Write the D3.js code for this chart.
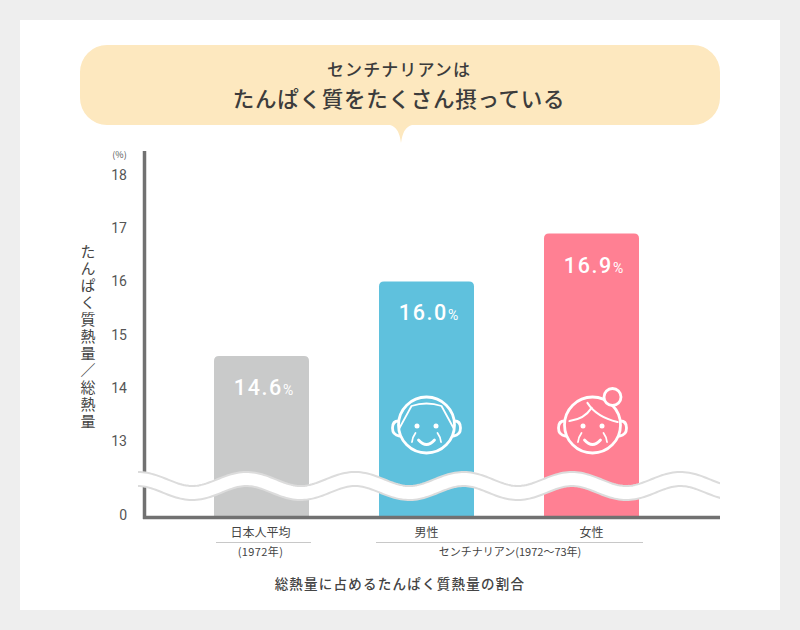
<!DOCTYPE html>
<html lang="ja">
<head>
<meta charset="utf-8">
<script src="https://cdn.jsdelivr.net/npm/d3@7"></script>
<style>
  html, body { margin: 0; padding: 0; background: #eeeeee; }
  svg { display: block; font-family: "Noto Sans CJK JP", "Noto Sans", sans-serif; }
</style>
</head>
<body>
<div id="chart"></div>
<script>
// chart data
const categories = ['日本人平均', '男性', '女性'];
const values = [14.6, 16.0, 16.9];
const barColors = ['#c9caca', '#5fc1dd', '#ff8093'];
const yTicks = [0, 13, 14, 15, 16, 17, 18];
const titleLines = ['センチナリアンは', 'たんぱく質をたくさん摂っている'];
const yTitle = 'たんぱく質熱量／総熱量';
const groupLabels = ['(1972年)', 'センチナリアン(1972〜73年)'];
const footer = '総熱量に占めるたんぱく質熱量の割合';

const width = 800;
const height = 630;
const textColor = '#444';
const axisColor = '#717171';

const svg = d3.select('#chart').append('svg')
  .attr('width', width)
  .attr('height', height);

// White card
svg.append('rect')
  .attr('x', 20).attr('y', 20)
  .attr('width', 760).attr('height', 590)
  .attr('fill', '#fff');

// Speech bubble
svg.append('path')
  .attr('d', 'M107,45 H693 A27,27 0 0 1 720,72 V98 A27,27 0 0 1 693,125 H412 Q403,127 401,143 Q399,127 390,125 H107 A27,27 0 0 1 80,98 V72 A27,27 0 0 1 107,45 Z')
  .attr('fill', '#fde8bf');

svg.append('text')
  .attr('x', 399).attr('y', 76)
  .attr('text-anchor', 'middle')
  .attr('font-size', 17).attr('font-weight', 500)
  .attr('letter-spacing', 1.1)
  .attr('fill', '#3c3c3c')
  .text(titleLines[0]);

svg.append('text')
  .attr('x', 399).attr('y', 107)
  .attr('text-anchor', 'middle')
  .attr('font-size', 21.5).attr('font-weight', 500)
  .attr('letter-spacing', 0.75)
  .attr('fill', '#3c3c3c')
  .text(titleLines[1]);

// Scales, the axis is broken between 0 and 13
const x = d3.scaleBand()
  .domain(categories)
  .range([179, 674])
  .paddingInner(70 / 165)
  .paddingOuter(35 / 165);

const y = d3.scaleLinear()
  .domain([0, 13, 18])
  .range([515, 441, 175]);

// Bars with rounded top corners
const barPath = (d, i) => {
  const x0 = x(categories[i]);
  const x1 = x0 + x.bandwidth();
  const top = y(d);
  const r = 5;
  return `M${x0},${y(0) + 2} V${top + r} Q${x0},${top} ${x0 + r},${top} H${x1 - r} Q${x1},${top} ${x1},${top + r} V${y(0) + 2} Z`;
};

svg.append('g')
  .selectAll('path')
  .data(values)
  .enter()
  .append('path')
  .attr('d', barPath)
  .attr('fill', (d, i) => barColors[i]);

// Value labels
const valueLabel = svg.append('g')
  .selectAll('text')
  .data(values)
  .enter()
  .append('text')
  .attr('x', (d, i) => x(categories[i]) + x.bandwidth() / 2 + 2)
  .attr('y', d => y(d) + 39)
  .attr('text-anchor', 'middle')
  .attr('fill', '#fff')
  .attr('font-family', 'Roboto, "Noto Sans", sans-serif')
  .attr('font-weight', 500);

valueLabel.append('tspan')
  .attr('font-size', 21.5)
  .attr('letter-spacing', 1.6)
  .text(d => d.toFixed(1));

valueLabel.append('tspan')
  .attr('font-size', 14)
  .attr('font-weight', 400)
  .text('%');

// Face icons
const drawFace = (g) => {
  g.attr('fill', 'none')
    .attr('stroke', '#fff')
    .attr('stroke-width', 2.8)
    .attr('stroke-linecap', 'round');
  g.append('circle').attr('r', 28);
  // ears
  g.append('path').attr('d', 'M-28,-4 Q-34,-4 -34,3 Q-34,10 -27,11');
  g.append('path').attr('d', 'M28,-4 Q34,-4 34,3 Q34,10 27,11');
  // eyes
  [-9.5, 9.5].forEach(cx => {
    g.append('circle')
      .attr('cx', cx).attr('cy', 1).attr('r', 2.5)
      .attr('fill', '#fff').attr('stroke', 'none');
  });
  // smile and wrinkles
  g.append('path').attr('d', 'M-8,15 Q0,24 8,15');
  g.append('path').attr('stroke-width', 1.8).attr('d', 'M-11,8 Q-14,12 -14.5,17');
  g.append('path').attr('stroke-width', 1.8).attr('d', 'M11,8 Q14,12 14.5,17');
};

const man = svg.append('g')
  .attr('transform', `translate(${x(categories[1]) + x.bandwidth() / 2},${y(13) - 16})`);
drawFace(man);
man.append('path')
  .attr('stroke-width', 1.8)
  .attr('d', 'M-27,3 L-15,-19 Q0,-24 15,-19 L27,3');

const woman = svg.append('g')
  .attr('transform', `translate(${x(categories[2]) + x.bandwidth() / 2 + 1},${y(13) - 16})`);
drawFace(woman);
woman.append('circle').attr('cx', 20).attr('cy', -28).attr('r', 8.5).attr('fill', '#ff8093');
woman.append('path')
  .attr('stroke-width', 2.2)
  .attr('d', 'M-23,-4 Q-8,-6 -1,-17');
woman.append('path')
  .attr('stroke-width', 2.2)
  .attr('d', 'M-5,-22 Q4,-8 25,-3');

// Axis lines
svg.append('line')
  .attr('x1', 144.5).attr('x2', 144.5)
  .attr('y1', 151).attr('y2', 519)
  .attr('stroke', axisColor).attr('stroke-width', 3.5);
svg.append('line')
  .attr('x1', 143).attr('x2', 720)
  .attr('y1', 517.5).attr('y2', 517.5)
  .attr('stroke', axisColor).attr('stroke-width', 3.5);

// Break mark across the axis and bars
svg.append('clipPath').attr('id', 'wave-clip')
  .append('rect')
  .attr('x', 138).attr('y', 460)
  .attr('width', 582).attr('height', 50);

const wavePoints = d3.range(130, 731, 2);
const waveLine = d3.line()
  .x(d => d)
  .y(d => 486 - 7 * Math.cos((d - 138) / 108.5 * 2 * Math.PI));

const wave = svg.append('g').attr('clip-path', 'url(#wave-clip)');
wave.append('path')
  .attr('d', waveLine(wavePoints))
  .attr('fill', 'none')
  .attr('stroke', '#dcdcdc')
  .attr('stroke-width', 16);
wave.append('path')
  .attr('d', waveLine(wavePoints))
  .attr('fill', 'none')
  .attr('stroke', '#fff')
  .attr('stroke-width', 12);

// Y axis labels
const yAxis = svg.append('g')
  .attr('transform', 'translate(127,0)')
  .call(d3.axisLeft(y).tickValues(yTicks).tickSize(0).tickPadding(0).tickFormat(d3.format('d')));
yAxis.select('.domain').remove();
yAxis.selectAll('text')
  .attr('font-family', 'Roboto, "Noto Sans", sans-serif')
  .attr('font-size', 14)
  .attr('fill', '#555');

svg.append('text')
  .attr('x', 119.5).attr('y', 158)
  .attr('text-anchor', 'middle')
  .attr('font-size', 9)
  .attr('fill', '#555')
  .text('(%)');

svg.append('text')
  .attr('transform', 'translate(88,244)')
  .attr('font-size', 15)
  .attr('letter-spacing', 2)
  .attr('fill', textColor)
  .style('writing-mode', 'vertical-rl')
  .text(yTitle);

// Category labels and group rules
svg.append('g')
  .selectAll('text')
  .data(categories)
  .enter()
  .append('text')
  .attr('x', (d, i) => x(d) + x.bandwidth() / 2 + (i === 0 ? -1 : 0))
  .attr('y', 537)
  .attr('text-anchor', 'middle')
  .attr('font-size', 12)
  .attr('fill', textColor)
  .text(d => d);

svg.append('line')
  .attr('x1', 216).attr('x2', 311)
  .attr('y1', 542.5).attr('y2', 542.5)
  .attr('stroke', '#c8c8c8');
svg.append('line')
  .attr('x1', 376).attr('x2', 643)
  .attr('y1', 542.5).attr('y2', 542.5)
  .attr('stroke', '#c8c8c8');

svg.append('text')
  .attr('x', 260.5).attr('y', 556)
  .attr('text-anchor', 'middle')
  .attr('font-size', 11)
  .attr('letter-spacing', 0.4)
  .attr('fill', textColor)
  .text(groupLabels[0]);
svg.append('text')
  .attr('x', 510).attr('y', 556)
  .attr('text-anchor', 'middle')
  .attr('font-size', 11)
  .attr('fill', textColor)
  .text(groupLabels[1]);

svg.append('text')
  .attr('x', 400).attr('y', 589)
  .attr('text-anchor', 'middle')
  .attr('font-size', 13.5)
  .attr('font-weight', 500)
  .attr('letter-spacing', 1.25)
  .attr('fill', textColor)
  .text(footer);
</script>
</body>
</html>
